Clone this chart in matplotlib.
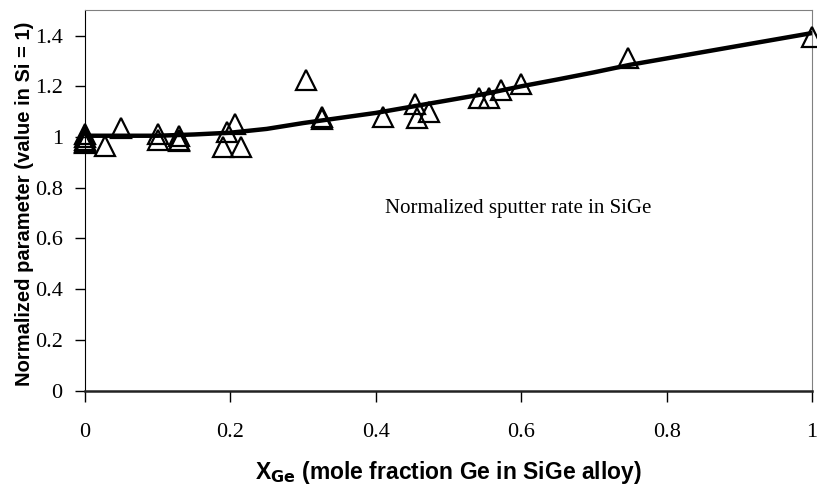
import matplotlib.pyplot as plt

# measured points (mole fraction Ge, normalized sputter rate)
x_meas = [0, 0, 0, 0, 0, 0.028, 0.05, 0.10, 0.10, 0.13, 0.13, 0.13,
          0.19, 0.195, 0.207, 0.215, 0.304, 0.326, 0.326, 0.41,
          0.454, 0.456, 0.473, 0.542, 0.556, 0.572, 0.60, 0.747, 1.0]
y_meas = [1.01, 1.0, 0.99, 0.98, 0.975, 0.965, 1.037, 1.01, 0.99, 1.005, 0.99, 0.985,
          0.96, 1.02, 1.05, 0.96, 1.225, 1.08, 1.07, 1.08,
          1.13, 1.075, 1.10, 1.155, 1.155, 1.185, 1.21, 1.31, 1.395]

# fitted curve
x_fit = [0, 0.05, 0.1, 0.15, 0.2, 0.25, 0.3, 0.35, 0.4, 0.45, 0.5,
         0.55, 0.6, 0.65, 0.7, 0.75, 0.8, 0.85, 0.9, 0.95, 1.0]
y_fit = [1.005, 1.005, 1.005, 1.01, 1.017, 1.032, 1.055, 1.075, 1.095, 1.12, 1.145,
         1.17, 1.20, 1.227, 1.255, 1.285, 1.31, 1.335, 1.36, 1.385, 1.41]

fig = plt.figure(figsize=(8.17, 4.87), dpi=100)
ax = fig.add_axes([0.104, 0.198, 0.89, 0.781])

ax.plot(x_fit, y_fit, color='black', lw=3.2, zorder=2)
ax.plot(x_meas, y_meas, linestyle='none', marker='^', markersize=15,
        markerfacecolor='none', markeredgecolor='black', markeredgewidth=1.6,
        clip_on=False, zorder=3)

ax.text(0.413, 0.72, 'Normalized sputter rate in SiGe', family='Liberation Serif',
        fontsize=15, va='center', ha='left')

ax.set_xlim(0, 1)
ax.set_ylim(0, 1.5)
ax.set_xticks([0, 0.2, 0.4, 0.6, 0.8, 1])
ax.set_xticklabels(['0', '0.2', '0.4', '0.6', '0.8', '1'])
ax.set_yticks([0, 0.2, 0.4, 0.6, 0.8, 1, 1.2, 1.4])
ax.set_yticklabels(['0', '0.2', '0.4', '0.6', '0.8', '1', '1.2', '1.4'])
for lab in ax.get_xticklabels() + ax.get_yticklabels():
    lab.set_family('Liberation Serif')
    lab.set_fontsize(16)
ax.tick_params(axis='x', direction='out', length=8, width=1, pad=15)
ax.tick_params(axis='y', direction='out', length=7, width=1, pad=9)

ax.spines['top'].set_color('#808080')
ax.spines['right'].set_color('#808080')
ax.spines['left'].set_color('black')
ax.spines['bottom'].set_color('#222222')
ax.spines['bottom'].set_linewidth(1.8)

ax.set_ylabel('Normalized parameter (value in Si = 1)', family='Liberation Sans',
              fontweight='bold', fontsize=14.5, va='center')
ax.yaxis.set_label_coords(-0.083, 0.49)
ax.set_xlabel(r'X$_{\mathbf{Ge}}$ (mole fraction Ge in SiGe alloy)', family='Liberation Sans',
              fontweight='bold', fontsize=16.5)
ax.xaxis.set_label_coords(0.5, -0.18)

fig.savefig('out.png', dpi=100)
